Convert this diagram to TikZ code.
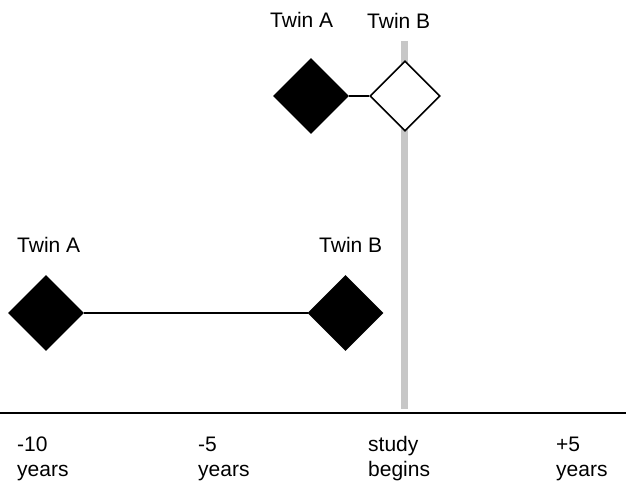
\documentclass[tikz,border=0pt]{standalone}
\usepackage{fontspec}
\setmainfont{Liberation Sans}
\usetikzlibrary{shapes.geometric}
\begin{document}
\begin{tikzpicture}[x=1pt,y=-1pt,
  twin/.style={diamond, aspect=1, inner sep=0pt, minimum width=74pt, minimum height=74pt, draw=black, line width=1.6pt},
  solidtwin/.style={twin, fill=black},
  opentwin/.style={twin, fill=white, minimum width=70pt, minimum height=70pt},
  link/.style={line width=1.6pt},
  lbl/.style={font=\fontsize{21}{24.5}\selectfont, inner sep=0pt, anchor=base west},
  axislbl/.style={font=\fontsize{21}{24.5}\selectfont, inner sep=0pt, anchor=base west, align=left}]
\useasboundingbox (0,0) rectangle (626,481);
% study begins marker
\coordinate (gtop) at (404,41);
\coordinate (gbot) at (404,409);
\draw[line width=7pt, color=black!22] (gtop) -- (gbot);
% time axis
\coordinate (axl) at (0,413);
\coordinate (axr) at (626,413);
\draw[line width=1.8pt] (axl) -- (axr);
% top pair
\node[solidtwin] (ta) at (311,96) {};
\node[opentwin] (tb) at (405,96) {};
\draw[link] (ta.east) -- (tb.west);
\node[lbl] (tal) at (270,28) {Twin A};
\node[lbl] (tbl) at (367,29) {Twin B};
% bottom pair
\node[solidtwin] (ba) at (46,313) {};
\node[solidtwin] (bb) at (345.5,313) {};
\draw[link] (ba.east) -- (bb.west);
\node[lbl] (bal) at (17,252) {Twin A};
\node[lbl] (bbl) at (319,252) {Twin B};
% axis labels
\node[axislbl] (l1) at (17,476) {-10\\years};
\node[axislbl] (l2) at (198,476) {-5\\years};
\node[axislbl] (l3) at (368,476) {study\\begins};
\node[axislbl] (l4) at (556,476) {+5\\years};
\end{tikzpicture}
\end{document}
